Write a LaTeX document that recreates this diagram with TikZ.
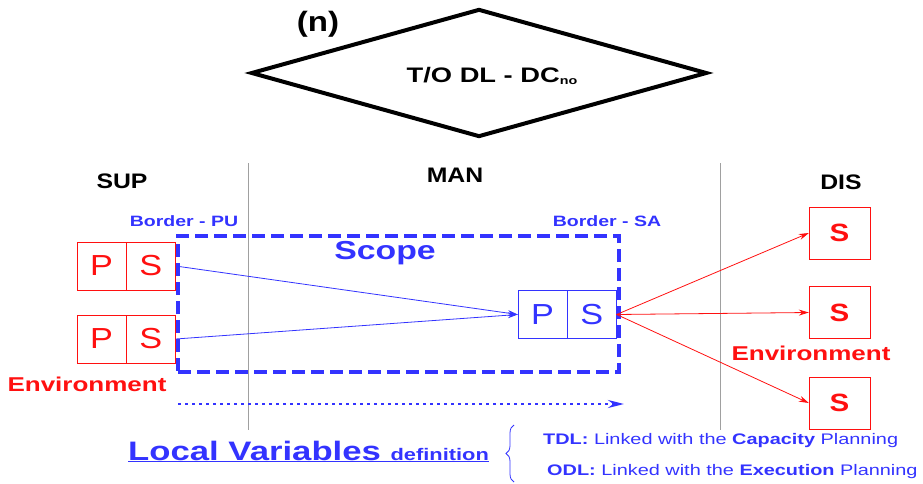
\documentclass[tikz,border=0pt]{standalone}
\usepackage{fontspec}
\setmainfont[FakeStretch=1.3]{Liberation Sans}
\newfontfamily\headfont[FakeStretch=1.18]{Liberation Sans}
\usetikzlibrary{arrows.meta,positioning,shapes.geometric,decorations.pathreplacing}
\definecolor{scopeBlue}{HTML}{3333FF}
\definecolor{envRed}{HTML}{FF1010}
\definecolor{rule}{HTML}{A0A0A0}
\newcommand{\fsz}[1]{\fontsize{#1}{#1}\selectfont}

\begin{document}
\begin{tikzpicture}[x=1pt,y=-1pt,
  cell/.style={draw,minimum width=49pt,minimum height=48pt,inner sep=0pt,font=\headfont\fsz{29}},
  redcell/.style={cell,draw=envRed,text=envRed},
  bluecell/.style={cell,draw=scopeBlue,text=scopeBlue},
  sbox/.style={draw=envRed,text=envRed,minimum width=61pt,minimum height=52pt,inner sep=0pt,font=\headfont\bfseries\fsz{25}},
  head/.style={font=\headfont\bfseries\fsz{21}},
  border/.style={font=\bfseries\fsz{15},text=scopeBlue},
  env/.style={font=\bfseries\fsz{20},text=envRed},
  note/.style={anchor=west,inner sep=0pt,text=scopeBlue,font=\fsz{15.3}},
  blink/.style={scopeBlue,line width=0.8pt,-{Stealth[length=10pt,width=6pt]}},
  rlink/.style={envRed,line width=0.8pt,-{Stealth[length=10pt,width=6pt]}},
  divider/.style={rule,line width=0.7pt}
]
\useasboundingbox (0,0) rectangle (923,484);

% decision
\node[draw,diamond,line width=4pt,minimum width=456pt,minimum height=128pt] (dec) at (479,73) {};
\node[font=\bfseries\fsz{21}] (decl) at (492,76) {T/O DL - DC\raisebox{-2pt}{\fsz{11}no}};
\node[font=\headfont\bfseries\fsz{28}] (num) at (318,24) {(n)};

% lanes
\coordinate (la) at (248,163); \coordinate (lb) at (248,430);
\coordinate (ra) at (720,163); \coordinate (rb) at (720,430);
\draw[divider] (la) -- (lb);
\draw[divider] (ra) -- (rb);
\node[head] (sup) at (122,181) {SUP};
\node[head] (man) at (455,175) {MAN};
\node[head] (dis) at (841,182) {DIS};
\node[border] (bpu) at (184,221) {Border - PU};
\node[border] (bsa) at (607,221) {Border - SA};

% scope
\node[draw=scopeBlue,line width=3.6pt,dash pattern=on 13pt off 6pt,minimum width=441pt,minimum height=136pt] (scope) at (398.5,304) {};
\node[font=\bfseries\fsz{26},text=scopeBlue] (scl) at (385,253) {Scope};

% suppliers
\node[redcell] (p1) at (101.5,266) {P};
\node[redcell,right=0pt of p1] (s1) {S};
\node[redcell] (p2) at (101.5,339) {P};
\node[redcell,right=0pt of p2] (s2) {S};
\node[env] (envl) at (87,384) {Environment};

% manufacturer
\node[bluecell] (mp) at (542.5,314.5) {P};
\node[bluecell,right=0pt of mp] (ms) {S};

% distributors
\node[sbox] (d1) at (839.5,233) {S};
\node[sbox] (d2) at (839.5,312.5) {S};
\node[sbox] (d3) at (839.5,403) {S};
\node[env] (envr) at (811,353.5) {Environment};

\draw[blink] (s1.east) -- (mp.west);
\draw[blink] (s2.east) -- (mp.west);
\foreach \d in {d1,d2,d3}
  \draw[rlink] (ms.east) -- (\d.west);

% local variables
\coordinate (da) at (178,404); \coordinate (db) at (624,404);
\draw[scopeBlue,line width=2.5pt,dash pattern=on 2.5pt off 4.5pt,-{Stealth[length=16pt,width=8pt]}] (da) -- (db);
\node[anchor=base west,inner sep=0pt,text=scopeBlue,font=\bfseries\fsz{26.7}] (lv) at (128,460) {\underline{Local Variables {\fsz{16.8}definition}}};
\coordinate (bt) at (514,425); \coordinate (bb) at (514,482);
\draw[scopeBlue,line width=0.8pt,decorate,decoration={brace,amplitude=8pt}] (bb) -- (bt);
\node[note] (tdl) at (543,441) {\textbf{TDL:} Linked with the \textbf{Capacity} Planning};
\node[note] (odl) at (547,472) {\textbf{ODL:} Linked with the \textbf{Execution} Planning};
\end{tikzpicture}
\end{document}
